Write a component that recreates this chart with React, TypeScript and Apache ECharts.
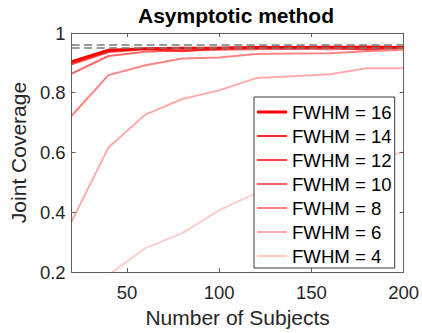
import React, { useEffect, useRef } from "react";
import * as echarts from "echarts";

const subjects = [20, 40, 60, 80, 100, 120, 140, 160, 180, 200];
const fwhmLabels = ["FWHM = 16", "FWHM = 14", "FWHM = 12", "FWHM = 10", "FWHM = 8", "FWHM = 6", "FWHM = 4"];
const fwhm16 = [0.905, 0.943, 0.948, 0.95, 0.95, 0.952, 0.952, 0.953, 0.953, 0.952];
const fwhm14 = [0.9, 0.94, 0.947, 0.949, 0.951, 0.951, 0.953, 0.952, 0.954, 0.953];
const fwhm12 = [0.895, 0.936, 0.946, 0.939, 0.947, 0.95, 0.951, 0.951, 0.945, 0.951];
const fwhm10 = [0.864, 0.923, 0.937, 0.942, 0.944, 0.946, 0.947, 0.946, 0.948, 0.95];
const fwhm8 = [0.723, 0.859, 0.892, 0.915, 0.918, 0.93, 0.931, 0.932, 0.939, 0.944];
const fwhm6 = [0.369, 0.617, 0.727, 0.779, 0.808, 0.849, 0.855, 0.862, 0.882, 0.882];
const fwhm4 = [0.08, 0.19, 0.28, 0.33, 0.406, 0.464, 0.5, 0.54, 0.57, 0.602];
const boundLevels = [0.958, 0.946];
const xTickValues = [50, 100, 150, 200];

const seriesValues = [fwhm16, fwhm14, fwhm12, fwhm10, fwhm8, fwhm6, fwhm4];
const seriesAlpha = [1, 0.85, 0.72, 0.6, 0.48, 0.33, 0.2];
const seriesWidth = [2.5, 2, 2, 2, 2, 2, 2];

const FONT = "'Liberation Sans', Arial, Helvetica, sans-serif";
const AXIS_COLOR = "#5f5f5f";

export default function App() {
  const ref = useRef<HTMLDivElement>(null);
  useEffect(() => {
    if (!ref.current) return;
    const chart = echarts.init(ref.current, null, { renderer: "svg" });
    const colorOf = (i: number) => `rgba(255,0,0,${seriesAlpha[i]})`;
    const lineSeries: any[] = seriesValues.map((vals, i) => ({
      name: fwhmLabels[i],
      type: "line",
      xAxisIndex: 0,
      yAxisIndex: 0,
      symbol: "none",
      clip: true,
      data: subjects.map((x, j) => [x, vals[j]]),
      lineStyle: { color: colorOf(i), width: seriesWidth[i] },
      itemStyle: { color: colorOf(i) },
      z: 2 + (seriesValues.length - i) * 0.01,
    }));
    lineSeries.push({
      name: "bounds",
      type: "line",
      xAxisIndex: 0,
      yAxisIndex: 0,
      symbol: "none",
      data: [],
      z: 10,
      markLine: {
        silent: true,
        symbol: ["none", "none"],
        label: { show: false },
        lineStyle: { color: "#7a7a7a", type: [8, 4.5], width: 1.6 },
        data: boundLevels.map((v) => ({ yAxis: v })),
        z: 10,
      },
    });
    const axisCommon = {
      axisLine: { show: true, lineStyle: { color: AXIS_COLOR, width: 1 } },
      axisTick: { show: true, inside: true, length: 4, lineStyle: { color: AXIS_COLOR } },
      splitLine: { show: false },
    };
    chart.setOption({
      animation: false,
      backgroundColor: "#ffffff",
      title: {
        text: "Asymptotic method",
        left: 138,
        top: 5,
        padding: 0,
        textStyle: { fontFamily: FONT, fontSize: 21, fontWeight: "bold", color: "#000" },
      },
      grid: { left: 66, right: 18, top: 33, bottom: 58, containLabel: false },
      legend: {
        data: fwhmLabels.map((name, i) => ({
          name,
          icon: i === 0 ? "path://M0,0h30v3h-30z" : "path://M0,0h30v2h-30z",
          itemStyle: { color: colorOf(i) },
        })),
        orient: "vertical",
        left: 254,
        top: 97,
        itemWidth: 30,
        itemHeight: 20,
        itemGap: 4,
        padding: [5, 3, 2, 3],
        backgroundColor: "#ffffff",
        borderColor: "#3a3a3a",
        borderWidth: 1,
        textStyle: { fontFamily: FONT, fontSize: 18.6, color: "#000", lineHeight: 20 },
      },
      xAxis: [
        {
          type: "value",
          min: 20,
          max: 200,
          position: "bottom",
          name: "Number of Subjects",
          nameLocation: "middle",
          nameGap: 35,
          nameTextStyle: { fontFamily: FONT, fontSize: 21, color: "#262626" },
          ...axisCommon,
          axisTick: { ...axisCommon.axisTick, customValues: xTickValues },
          axisLabel: {
            customValues: xTickValues,
            margin: 11,
            fontFamily: FONT,
            fontSize: 18.5,
            color: "#262626",
          },
        },
        {
          type: "value",
          min: 20,
          max: 200,
          position: "top",
          ...axisCommon,
          axisTick: { ...axisCommon.axisTick, customValues: xTickValues },
          axisLabel: { show: false },
        },
      ],
      yAxis: [
        {
          type: "value",
          min: 0.2,
          max: 1,
          interval: 0.2,
          position: "left",
          name: "Joint Coverage",
          nameLocation: "middle",
          nameGap: 36,
          nameTextStyle: { fontFamily: FONT, fontSize: 21, color: "#262626" },
          ...axisCommon,
          axisLabel: { margin: 6, fontFamily: FONT, fontSize: 18.5, color: "#262626" },
        },
        {
          type: "value",
          min: 0.2,
          max: 1,
          interval: 0.2,
          position: "right",
          ...axisCommon,
          axisLabel: { show: false },
        },
      ],
      series: lineSeries,
    });
    return () => chart.dispose();
  }, []);
  return (
    <div
      ref={ref}
      style={{ position: "fixed", left: 0, top: 0, width: 422, height: 333, background: "#fff" }}
    />
  );
}
